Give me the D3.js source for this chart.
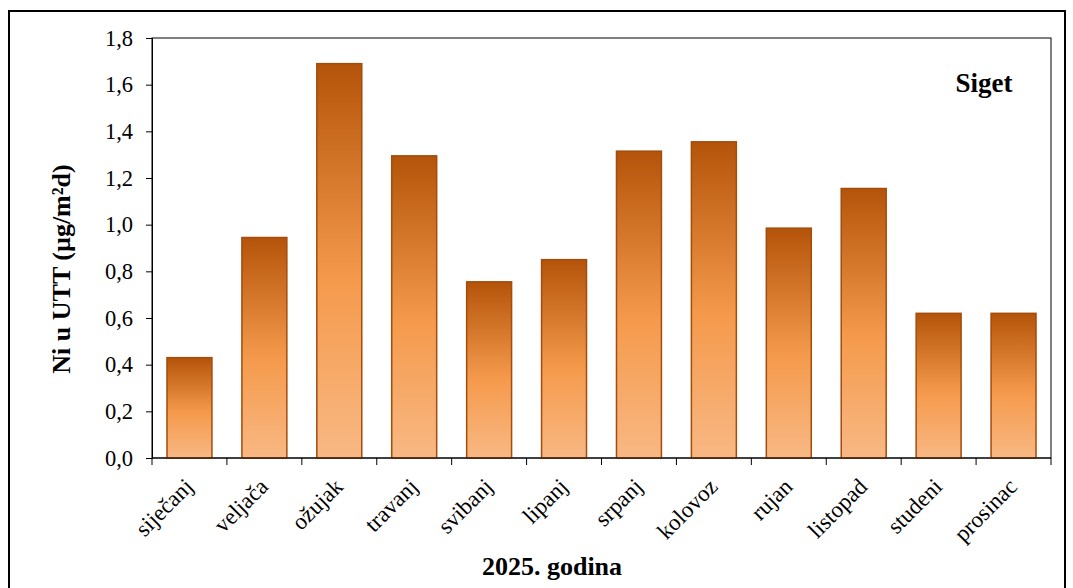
<!DOCTYPE html>
<html><head><meta charset="utf-8">
<script src="https://cdn.jsdelivr.net/npm/d3@7"></script>
<style>body{margin:0;background:#fff;}svg{display:block;font-family:"Liberation Serif","Times New Roman",serif;}</style>
</head><body>
<svg id="c" width="1073" height="588"></svg>
<script>
const months = ["siječanj","veljača","ožujak","travanj","svibanj","lipanj","srpanj","kolovoz","rujan","listopad","studeni","prosinac"];
const values = [0.43,0.945,1.69,1.295,0.755,0.85,1.315,1.355,0.985,1.155,0.62,0.62];
const yTicks = [0,0.2,0.4,0.6,0.8,1.0,1.2,1.4,1.6,1.8];

const svg = d3.select("#c");
const m = {l:152, t:38, r:1051, b:458};
svg.append("rect").attr("x",9).attr("y",11).attr("width",1056).attr("height",590)
  .attr("fill","none").attr("stroke","#000").attr("stroke-width",2);

const defs = svg.append("defs");
const g = defs.append("linearGradient").attr("id","bg").attr("x1",0).attr("y1",0).attr("x2",0).attr("y2",1);
g.append("stop").attr("offset","0%").attr("stop-color","#b4540a");
g.append("stop").attr("offset","55%").attr("stop-color","#f59a4c");
g.append("stop").attr("offset","100%").attr("stop-color","#f8b884");

const x = d3.scaleBand().domain(months).range([m.l,m.r]).paddingInner(0.4).paddingOuter(0.2);
const y = d3.scaleLinear().domain([0,1.8]).range([m.b,m.t]);

svg.append("rect").attr("x",m.l).attr("y",m.t).attr("width",m.r-m.l).attr("height",m.b-m.t)
  .attr("fill","none").attr("stroke","#000").attr("stroke-width",1);

svg.selectAll(".bar").data(values).enter().append("rect")
  .attr("x",(d,i)=>x(months[i])).attr("y",d=>y(d))
  .attr("width",x.bandwidth()).attr("height",d=>y(0)-y(d))
  .attr("fill","url(#bg)").attr("stroke","#a34c0c").attr("stroke-width",1.5);

const fmt = d => d3.format(".1f")(d).replace(".",",");
const ya = svg.append("g").attr("transform",`translate(${m.l},0)`)
  .call(d3.axisLeft(y).tickValues(yTicks).tickFormat(fmt).tickSize(6).tickPadding(13));
ya.selectAll("text").attr("font-size",22.5).attr("fill","#000").attr("font-family","Liberation Serif");
ya.selectAll("line,path").attr("stroke","#000");

const xTickScale = d3.scaleLinear().domain([0,12]).range([m.l,m.r]);
const xa = svg.append("g").attr("transform",`translate(0,${m.b})`);
xa.append("line").attr("x1",m.l).attr("x2",m.r).attr("stroke","#000");
xa.selectAll(".tk").data(d3.range(13)).enter().append("line")
  .attr("x1",d=>xTickScale(d)).attr("x2",d=>xTickScale(d)).attr("y1",0).attr("y2",7).attr("stroke","#000");
xa.selectAll(".lb").data(months).enter().append("text")
  .attr("transform",d=>`translate(${x(d)+x.bandwidth()/2+5},${30}) rotate(-45)`)
  .attr("text-anchor","end").attr("font-size",23).text(d=>d);

svg.append("text").attr("transform","translate(70,269) rotate(-90)").attr("text-anchor","middle")
  .attr("font-size",26).attr("font-weight","bold").text("Ni u UTT (µg/m²d)");
svg.append("text").attr("x",552).attr("y",575).attr("text-anchor","middle")
  .attr("font-size",26).attr("font-weight","bold").text("2025. godina");
svg.append("text").attr("x",984).attr("y",92).attr("text-anchor","middle")
  .attr("font-size",27).attr("font-weight","bold").text("Siget");
</script>
</body></html>
